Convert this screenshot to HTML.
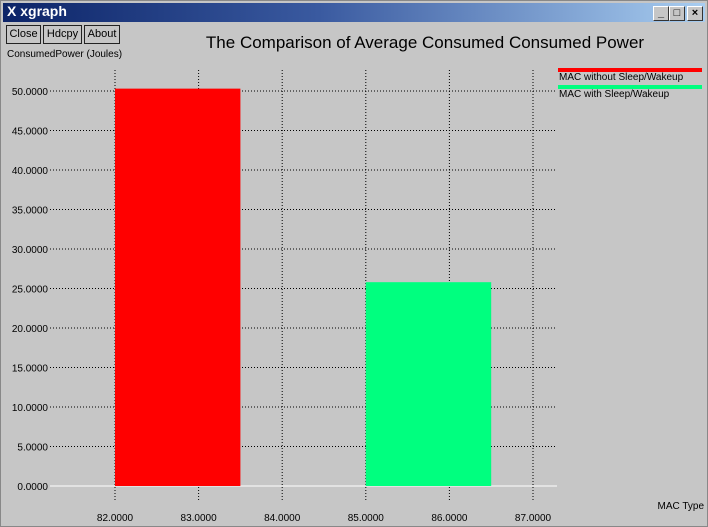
<!DOCTYPE html>
<html><head><meta charset="utf-8"><style>
body{margin:0;width:708px;height:527px;overflow:hidden;background:#c6c6c6;font-family:"Liberation Sans",sans-serif}
.win{position:absolute;left:0;top:0;width:706px;height:525px;border:1px solid #888;background:#c6c6c6}
.tb{position:absolute;left:2px;top:2px;width:702px;height:19px;background:linear-gradient(90deg,#0c2468 0%,#3a5aa0 45%,#a8cdf0 100%)}
.btn{position:absolute;top:24px;height:17px;border:1px solid #222;font-size:11px;line-height:17px;text-align:center;background:#c6c6c6}
.wb{position:absolute;top:5px;width:14px;height:13px;background:#c6c6c6;border:1px solid #fff;border-right-color:#333;border-bottom-color:#333;font-size:11px;line-height:12px;text-align:center;font-weight:bold}
</style></head><body>
<div class="win">
<div class="tb"><span style="position:absolute;left:4px;top:0;color:#fff;font-weight:bold;font-size:14px">X xgraph</span></div>
<div class="wb" style="left:652px">_</div>
<div class="wb" style="left:668px">□</div>
<div class="wb" style="left:686px">×</div>
<div class="btn" style="left:5px;width:33px">Close</div>
<div class="btn" style="left:42px;width:37px">Hdcpy</div>
<div class="btn" style="left:83px;width:34px">About</div>
</div>
<svg id="c" width="708" height="527" style="position:absolute;left:0;top:0" font-family="Liberation Sans, sans-serif">
<text x="425" y="48" font-size="17" text-anchor="middle">The Comparison of Average Consumed Consumed Power</text>
<text x="7" y="57" font-size="10">ConsumedPower (Joules)</text>
<text x="704" y="509" font-size="10" text-anchor="end">MAC Type</text>
<g id="g"></g>
</svg>
<script>
const series=["MAC without Sleep/Wakeup","MAC with Sleep/Wakeup"];
const colors=["#ff0000","#00ff7f"];
const barStart=[82,85];
const barEnd=[83.5,86.5];
const values=[50.3,25.8];
const xTicks=[82,83,84,85,86,87];
const yTicks=[0,5,10,15,20,25,30,35,40,45,50];
const X=v=>115+(v-82)*83.6;
const Y=v=>486-v*7.9;
const g=document.getElementById('g');const NS='http://www.w3.org/2000/svg';
function mk(t,a){const e=document.createElementNS(NS,t);for(const k in a)e.setAttribute(k,a[k]);g.appendChild(e);return e;}
yTicks.forEach(v=>{
 const l=mk('line',{x1:50,x2:557,y1:Y(v),y2:Y(v),stroke:v===0?'#fff':'#000','stroke-dasharray':v===0?'':'1,2'});
 
 
 const t=mk('text',{x:48,y:Y(v)+4,'font-size':10,'text-anchor':'end'});t.textContent=v.toFixed(4);
 
 
});
xTicks.forEach(v=>{
 const l=mk('line',{x1:X(v),x2:X(v),y1:70,y2:500,stroke:'#000','stroke-dasharray':'1,2'});
 
 
 const t=mk('text',{x:X(v),y:521,'font-size':10,'text-anchor':'middle'});t.textContent=v.toFixed(4);
 
 
});
values.forEach((v,i)=>{
 const r=mk('rect',{x:X(barStart[i]),y:Y(v),width:X(barEnd[i])-X(barStart[i]),height:Y(0)-Y(v),fill:colors[i]});
 
 
 const ll=mk('rect',{x:558,y:68+i*17,width:144,height:4,fill:colors[i]});
 
 
 const lt=mk('text',{x:559,y:80+i*17,'font-size':10});lt.textContent=series[i];
 
 
});
</script>
</body></html>
